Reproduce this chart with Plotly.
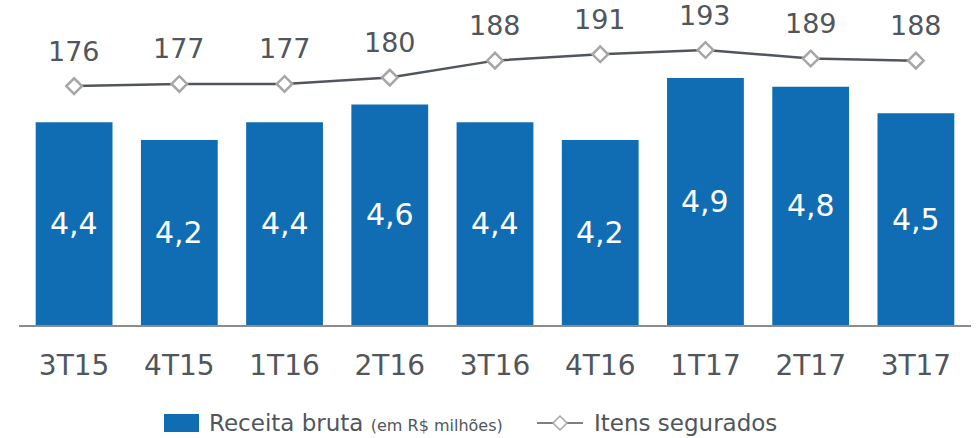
import plotly.graph_objects as go

categories = ["3T15", "4T15", "1T16", "2T16", "3T16", "4T16", "1T17", "2T17", "3T17"]
receita = [4.4, 4.2, 4.4, 4.6, 4.4, 4.2, 4.9, 4.8, 4.5]
itens = [176, 177, 177, 180, 188, 191, 193, 189, 188]

FONT = "DejaVu Sans"
TXT = "#50565c"
BAR = "#116db3"
Y1 = [2.11, 5.78]
Y2 = [63.3, 216.6]

W, H = 976, 438
ML, MR, MT, MB = 19, 5, 0, 113
PW, PH = W - ML - MR, H - MT - MB

def px(x):
    return (x - ML) / PW

def py(y):
    return (H - MB - y) / PH

def fmt(v):
    return f"{v:.1f}".replace(".", ",")

fig = go.Figure()
fig.add_trace(go.Bar(
    x=categories, y=receita, name="Receita bruta",
    marker=dict(color=BAR, line=dict(width=0)),
    hoverinfo="skip", showlegend=False,
))
fig.add_trace(go.Scatter(
    x=categories, y=itens, yaxis="y2", name="Itens segurados", mode="lines+markers",
    line=dict(color="#50565c", width=2.5),
    marker=dict(symbol="diamond", size=12, color="white", line=dict(color="#a6a6a6", width=2.5)),
    cliponaxis=False, showlegend=False,
))
for c, v in zip(categories, receita):
    fig.add_annotation(x=c, y=(v + Y1[0]) / 2, yref="y", text=fmt(v), showarrow=False,
                       font=dict(family=FONT, size=30, color="white"))
for c, v in zip(categories, itens):
    fig.add_annotation(x=c, y=v, yref="y2", text=str(v), showarrow=False,
                       yshift=35, font=dict(family=FONT, size=27, color=TXT))

# custom legend
LY = 423
fig.add_shape(type="rect", xref="paper", yref="paper",
              x0=px(164), x1=px(199), y0=py(432), y1=py(414),
              fillcolor=BAR, line=dict(width=0))
fig.add_annotation(xref="paper", yref="paper", x=px(207), y=py(LY), xanchor="left", yanchor="middle",
                   showarrow=False,
                   text="Receita bruta <span style='font-size:16px'>(em R$ milhões)</span>",
                   font=dict(family=FONT, size=23, color=TXT))
fig.add_shape(type="line", xref="paper", yref="paper",
              x0=px(537), x1=px(583), y0=py(LY), y1=py(LY),
              line=dict(color="#50565c", width=1.5))
cx, cy, r = 560, LY, 7
fig.add_shape(type="path", xref="paper", yref="paper",
              path=f"M {px(cx-r)} {py(cy)} L {px(cx)} {py(cy-r)} L {px(cx+r)} {py(cy)} L {px(cx)} {py(cy+r)} Z",
              fillcolor="white", line=dict(color="#a6a6a6", width=1.5))
fig.add_annotation(xref="paper", yref="paper", x=px(592), y=py(LY), xanchor="left", yanchor="middle",
                   showarrow=False, text="Itens segurados",
                   font=dict(family=FONT, size=23, color=TXT))

fig.update_layout(
    width=W, height=H,
    margin=dict(l=ML, r=MR, t=MT, b=MB, autoexpand=False),
    plot_bgcolor="white", paper_bgcolor="white",
    bargap=0.27,
    font=dict(family=FONT, color=TXT),
    showlegend=False,
    xaxis=dict(showline=True, linecolor="#8c8c8c", linewidth=2, showgrid=False, automargin=False,
               tickfont=dict(family=FONT, size=28, color=TXT), ticks="", ticklabelstandoff=14),
    yaxis=dict(range=Y1, visible=False, showgrid=False, automargin=False),
    yaxis2=dict(range=Y2, overlaying="y", visible=False, showgrid=False, automargin=False),
)

fig.write_html("out.html", config={"displayModeBar": False},
               post_script="document.body.style.margin='0';document.body.style.overflow='hidden';")
